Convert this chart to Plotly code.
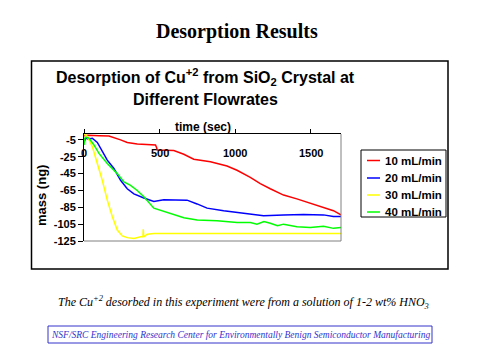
import plotly.graph_objects as go

# ---- data ----
t_10 = [0, 30, 100, 165, 242, 286, 352, 473, 480, 484, 594, 660, 726, 836, 946, 1012,
        1100, 1166, 1232, 1320, 1408, 1496, 1584, 1650, 1700]
m_10 = [0, 0.5, 0, -0.5, -5, -8, -9.8, -11, -14, -17, -17.7, -22, -28, -31, -36, -41,
        -49.5, -57, -63, -70.5, -75, -80, -85, -89, -94]

t_20 = [0, 10, 30, 55, 88, 121, 154, 198, 242, 286, 330, 396, 462, 528, 594, 682,
        748, 814, 924, 1056, 1188, 1320, 1452, 1584, 1650, 1700]
m_20 = [-8, -3, -4, -3, -8, -19, -29, -39, -53, -63, -69, -74, -78, -76, -76, -76.5,
        -81, -86, -89, -92, -95, -94, -93.5, -94, -96, -96]

t_30 = [0, 10, 22, 55, 88, 121, 154, 187, 220, 253, 286, 330, 374, 390, 392, 395,
        418, 462, 1700]
m_30 = [1, 1, -1, -13, -33, -53, -76.5, -96, -112, -119, -121, -122, -120, -120,
        -111, -120, -117, -116, -116]

t_40 = [0, 5, 15, 33, 66, 99, 154, 220, 264, 308, 352, 396, 462, 528, 594, 660, 748,
        880, 1012, 1100, 1144, 1190, 1232, 1280, 1320, 1408, 1496, 1584, 1650, 1700]
m_40 = [-11, -3, -2, -3, -11, -21, -33, -45, -55, -59, -65, -72.5, -86, -90, -94, -97.5,
        -100, -101, -103, -103, -105, -102, -104, -107, -105, -108, -109, -107.5, -110, -109]

series_names = ["10 mL/min", "20 mL/min", "30 mL/min", "40 mL/min"]
series_colors = ["#ff0000", "#0000ff", "#ffff00", "#00ff00"]
series_t = [t_10, t_20, t_30, t_40]
series_m = [m_10, m_20, m_30, m_40]

y_ticks = [-5, -25, -45, -65, -85, -105, -125]
x_ticks = [0, 500, 1000, 1500]

# ---- layout geometry (reference-window pixels; page body adds an 8px offset) ----
OFF = 8
W, H = 480 - OFF, 360 - OFF
PL, PR, PT, PB = 84, 341, 134, 241


def px(x):
    return (x - PL) / (PR - PL)


def py(y):
    return (PB - y) / (PB - PT)


fig = go.Figure()
for name, col, tt, mm in zip(series_names, series_colors, series_t, series_m):
    fig.add_trace(go.Scatter(x=tt, y=mm, mode="lines", name=name,
                             line=dict(color=col, width=1.5), showlegend=False))

shapes = []
annotations = []
SANS = "Liberation Sans, Arial"
SERIF = "Liberation Serif, Times New Roman"

# outer chart box
shapes.append(dict(type="rect", xref="paper", yref="paper",
                   x0=px(31.5), x1=px(448), y0=py(269), y1=py(61),
                   line=dict(color="black", width=1.5), layer="below"))
# plot area right + bottom gray borders
shapes.append(dict(type="line", xref="paper", yref="paper", x0=1, x1=1, y0=0, y1=1,
                   line=dict(color="#808080", width=1)))
shapes.append(dict(type="line", xref="paper", yref="paper", x0=0, x1=1, y0=0, y1=0,
                   line=dict(color="#808080", width=1)))

# x tick labels (drawn below the top axis line, inside the plot)
for v in x_ticks:
    annotations.append(dict(text="<b>%d</b>" % v, xref="x", yref="paper", x=v, y=py(153),
                            xanchor="center", yanchor="middle", showarrow=False,
                            font=dict(family=SANS, size=11, color="black")))

# legend (manual)
shapes.append(dict(type="rect", xref="paper", yref="paper",
                   x0=px(361), x1=px(446), y0=py(217), y1=py(150),
                   line=dict(color="black", width=1)))
leg_y = [160.5, 178, 195, 212]
for name, col, ly in zip(series_names, series_colors, leg_y):
    shapes.append(dict(type="line", xref="paper", yref="paper",
                       x0=px(367), x1=px(380), y0=py(ly), y1=py(ly),
                       line=dict(color=col, width=1.5)))
    annotations.append(dict(text="<b>%s</b>" % name, xref="paper", yref="paper", x=px(383), y=py(ly),
                            xanchor="left", yanchor="middle", showarrow=False,
                            font=dict(family=SANS, size=11.5, color="black")))

# chart title
annotations.append(dict(text="<b>Desorption of Cu<sup>+2</sup> from SiO<sub>2</sub> Crystal at</b>",
                        xref="paper", yref="paper", x=px(205), y=py(77),
                        xanchor="center", yanchor="middle", showarrow=False,
                        font=dict(family=SANS, size=16, color="black")))
annotations.append(dict(text="<b>Different Flowrates</b>",
                        xref="paper", yref="paper", x=px(205), y=py(99),
                        xanchor="center", yanchor="middle", showarrow=False,
                        font=dict(family=SANS, size=16, color="black")))
# axis titles
annotations.append(dict(text="<b>time (sec)</b>", xref="paper", yref="paper",
                        x=px(203), y=py(127), xanchor="center", yanchor="middle",
                        showarrow=False, font=dict(family=SANS, size=12, color="black")))
annotations.append(dict(text="<b>mass (ng)</b>", xref="paper", yref="paper",
                        x=px(41), y=py(196), xanchor="center", yanchor="middle",
                        textangle=-90, showarrow=False,
                        font=dict(family=SANS, size=13, color="black")))

# page title
annotations.append(dict(text="<b>Desorption Results</b>", xref="paper", yref="paper",
                        x=px(237), y=py(32), xanchor="center", yanchor="middle",
                        showarrow=False, font=dict(family=SERIF, size=20, color="black")))
# caption
annotations.append(dict(text="<i>The Cu<sup>+2</sup> desorbed in this experiment were from a solution of 1-2 wt% HNO<sub>3</sub></i>",
                        xref="paper", yref="paper", x=px(243), y=py(302),
                        xanchor="center", yanchor="middle", showarrow=False,
                        font=dict(family=SERIF, size=12, color="black")))
# footer box
shapes.append(dict(type="rect", xref="paper", yref="paper",
                   x0=px(48), x1=px(432), y0=py(343), y1=py(326),
                   line=dict(color="#3333cc", width=1)))
annotations.append(dict(text="<i>NSF/SRC Engineering Research Center for Environmentally Benign Semiconductor Manufacturing</i>",
                        xref="paper", yref="paper", x=px(240), y=py(334.5),
                        xanchor="center", yanchor="middle", showarrow=False,
                        font=dict(family=SERIF, size=9.5, color="#3333cc")))

fig.update_layout(
    width=W, height=H,
    margin=dict(l=PL - OFF, r=W - (PR - OFF), t=PT - OFF, b=H - (PB - OFF), pad=0),
    paper_bgcolor="white", plot_bgcolor="white",
    showlegend=False,
    shapes=shapes, annotations=annotations,
    font=dict(family=SANS, color="black"),
    xaxis=dict(range=[0, 1700], side="top", tickvals=x_ticks, showticklabels=False,
               ticks="outside", ticklen=4, tickcolor="black",
               showline=True, linecolor="black", linewidth=1,
               showgrid=False, zeroline=False, automargin=False),
    yaxis=dict(range=[-125, 2], tickvals=y_ticks,
               ticktext=["<b>%d</b>" % v for v in y_ticks],
               ticks="outside", ticklen=5, tickcolor="black",
               showline=True, linecolor="black", linewidth=1,
               showgrid=False, zeroline=False, automargin=False,
               tickfont=dict(size=11, family=SANS, color="black")),
)

fig.write_html("out.html")
